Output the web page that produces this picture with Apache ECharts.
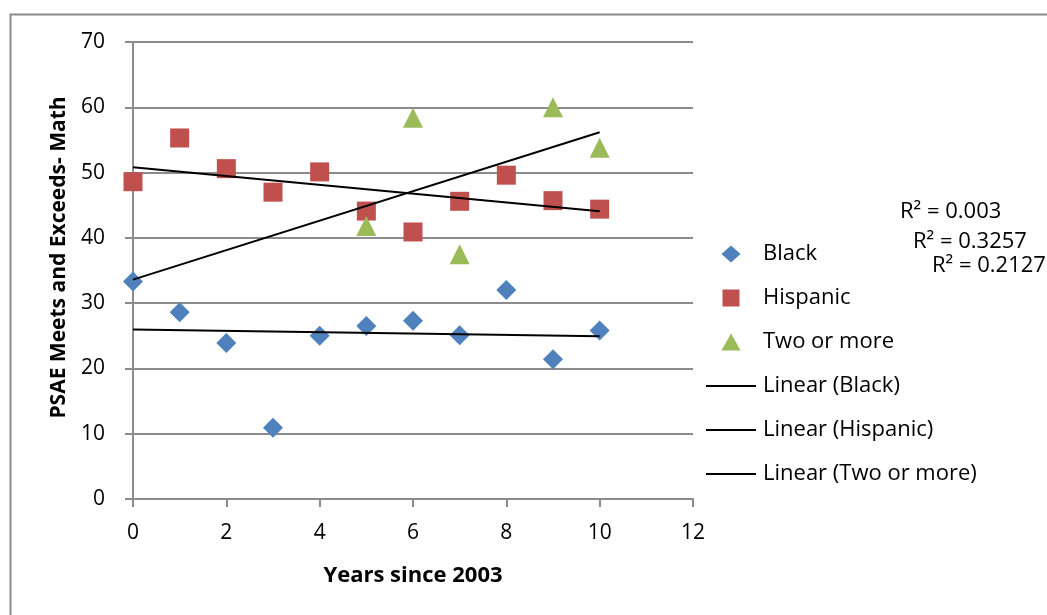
<!DOCTYPE html>
<html>
<head>
<meta charset="utf-8">
<script src="https://cdn.jsdelivr.net/npm/echarts@6/dist/echarts.min.js"></script>
<style>
  html, body { margin: 0; padding: 0; background: #fff; }
  #chart { width: 1047px; height: 615px; }
</style>
</head>
<body>
<div id="chart"></div>
<script>
// Years since 2003 for each observation
const yearsBlack = [0, 1, 2, 3, 4, 5, 6, 7, 8, 9, 10];
const yearsHispanic = [0, 1, 2, 3, 4, 5, 6, 7, 8, 9, 10];
const yearsTwoOrMore = [5, 6, 7, 9, 10];

// PSAE meets and exceeds, math (%)
const valuesBlack = [33.3, 28.6, 23.9, 10.9, 25.0, 26.5, 27.3, 25.1, 32.0, 21.4, 25.8];
const valuesHispanic = [48.6, 55.3, 50.6, 47.0, 50.1, 44.1, 40.9, 45.6, 49.6, 45.7, 44.4];
const valuesTwoOrMore = [41.8, 58.4, 37.5, 60.0, 53.8];

const seriesNames = ['Black', 'Hispanic', 'Two or more'];
const trendNames = ['Linear (Black)', 'Linear (Hispanic)', 'Linear (Two or more)'];
const rSquaredLabels = ['R\u00b2 = 0.003', 'R\u00b2 = 0.3257', 'R\u00b2 = 0.2127'];

const xTicks = [0, 2, 4, 6, 8, 10, 12];
const yTicks = [0, 10, 20, 30, 40, 50, 60, 70];

const FONT = '"Open Sans", sans-serif';
const AXIS_GREY = '#8c8c8c';

// Least-squares fit, evaluated over the 0..10 year span
function trend(xs, ys) {
  const n = xs.length;
  const mx = xs.reduce((a, b) => a + b, 0) / n;
  const my = ys.reduce((a, b) => a + b, 0) / n;
  let sxy = 0, sxx = 0;
  for (let i = 0; i < n; i++) {
    sxy += (xs[i] - mx) * (ys[i] - my);
    sxx += (xs[i] - mx) * (xs[i] - mx);
  }
  const slope = sxy / sxx;
  const icpt = my - slope * mx;
  return [[0, icpt], [10, icpt + slope * 10]];
}

function pairs(xs, ys) { return xs.map((x, i) => [x, ys[i]]); }

const groups = [
  { x: yearsBlack, y: valuesBlack, color: '#4F81BD', symbol: 'diamond', size: 20,
    icon: 'path://M9,0L18,8L9,16L0,8Z' },
  { x: yearsHispanic, y: valuesHispanic, color: '#C0504D', symbol: 'rect', size: 19,
    icon: 'path://M0,0L17,0L17,17L0,17Z' },
  { x: yearsTwoOrMore, y: valuesTwoOrMore, color: '#9BBB59', symbol: 'triangle', size: 20,
    icon: 'path://M9,0L18,16L0,16Z' }
];
const lineIcon = 'path://M0,0L50,0L50,2L0,2Z';

const series = [];
groups.forEach((g, i) => {
  series.push({
    name: seriesNames[i],
    type: 'scatter',
    symbol: g.symbol,
    symbolSize: g.size,
    itemStyle: { color: g.color, opacity: 1 },
    data: pairs(g.x, g.y),
    z: 2
  });
});
groups.forEach((g, i) => {
  series.push({
    name: trendNames[i],
    type: 'line',
    symbol: 'none',
    showSymbol: false,
    lineStyle: { color: '#000', width: 2 },
    itemStyle: { color: '#000' },
    data: trend(g.x, g.y),
    z: 3
  });
});

const legendData = seriesNames.map((n, i) => ({ name: n, icon: groups[i].icon }))
  .concat(trendNames.map(n => ({ name: n, icon: lineIcon })));

const chart = echarts.init(document.getElementById('chart'), null, { renderer: 'canvas' });

chart.setOption({
  animation: false,
  backgroundColor: '#fff',
  textStyle: { fontFamily: FONT },
  grid: { left: 133, top: 42, right: 354, bottom: 116, containLabel: false },
  xAxis: {
    type: 'value',
    min: xTicks[0], max: xTicks[xTicks.length - 1], interval: 2,
    name: 'Years since 2003',
    nameLocation: 'middle',
    nameGap: 66,
    nameTextStyle: { fontFamily: FONT, fontWeight: 'bold', fontSize: 22, color: '#000' },
    axisLine: { show: true, lineStyle: { color: AXIS_GREY, width: 2 } },
    axisTick: { show: true, length: 8, lineStyle: { color: AXIS_GREY, width: 2 } },
    axisLabel: { fontFamily: FONT, fontSize: 21, color: '#000', margin: 24 },
    splitLine: { show: false }
  },
  yAxis: {
    type: 'value',
    min: yTicks[0], max: yTicks[yTicks.length - 1], interval: 10,
    name: 'PSAE Meets and Exceeds- Math',
    nameLocation: 'middle',
    nameGap: 63,
    nameTextStyle: { fontFamily: FONT, fontWeight: 'bold', fontSize: 21, color: '#000',
      padding: [0, 0, 0, 26] },
    axisLine: { show: true, lineStyle: { color: AXIS_GREY, width: 2 } },
    axisTick: { show: true, length: 8, lineStyle: { color: AXIS_GREY, width: 2 } },
    axisLabel: { fontFamily: FONT, fontSize: 21, color: '#000', margin: 28 },
    splitLine: { show: true, lineStyle: { color: AXIS_GREY, width: 2 } }
  },
  legend: {
    orient: 'vertical',
    left: 706,
    top: 243,
    padding: 0,
    itemWidth: 50,
    itemHeight: 17,
    itemGap: 22,
    symbolKeepAspect: true,
    textStyle: { fontFamily: FONT, fontSize: 22, color: '#000', lineHeight: 22,
      padding: [0, 0, 0, 2] },
    data: legendData
  },
  graphic: [
    { type: 'rect', left: 8, top: 12, shape: { width: 1200, height: 800 },
      style: { fill: 'none', stroke: AXIS_GREY, lineWidth: 2 }, silent: true },
    { type: 'text', left: 900, top: 201,
      style: { text: rSquaredLabels[0], font: '22px ' + FONT, fill: '#000' } },
    { type: 'text', left: 913, top: 231,
      style: { text: rSquaredLabels[1], font: '22px ' + FONT, fill: '#000' } },
    { type: 'text', left: 932, top: 255,
      style: { text: rSquaredLabels[2], font: '22px ' + FONT, fill: '#000' } }
  ],
  series: series
});
</script>
</body>
</html>
